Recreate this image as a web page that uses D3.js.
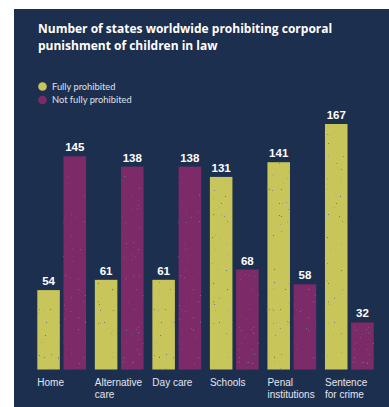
<!DOCTYPE html>
<html lang="en">
<head>
<meta charset="UTF-8">
<title>Corporal punishment</title>
<script src="https://d3js.org/d3.v7.min.js"></script>
<style>
body { margin: 0; background: #fff; }
svg { display: block; }
.title { font-family: "Open Sans", sans-serif; font-weight: 700; font-size: 12px; fill: #fff; }
.legend text { font-family: Lato, sans-serif; font-size: 9.3px; fill: #dfe2ea; }
.val { font-family: "Liberation Sans", Arial, sans-serif; font-weight: 700; font-size: 11.5px; fill: #fff; text-anchor: middle; }
.cat { font-family: "Liberation Sans", Arial, sans-serif; font-size: 10px; fill: #e4e6ee; }
</style>
</head>
<body>
<svg width="389" height="407">
  <defs>
    <filter id="grain" x="0" y="0" width="1" height="1">
      <feTurbulence type="fractalNoise" baseFrequency="0.85" numOctaves="1" seed="4" result="n"/>
      <feColorMatrix in="n" type="matrix" values="0 0 0 0 0.11  0 0 0 0 0.18  0 0 0 0 0.31  22 0 0 0 -15.9" result="dots"/>
      <feComposite in="dots" in2="SourceGraphic" operator="in" result="d2"/>
      <feMerge><feMergeNode in="SourceGraphic"/><feMergeNode in="d2"/></feMerge>
    </filter>
  </defs>
</svg>
<script>
const categories = [["Home"], ["Alternative", "care"], ["Day care"], ["Schools"], ["Penal", "institutions"], ["Sentence", "for crime"]];
const series = ["Fully prohibited", "Not fully prohibited"];
const fully = [54, 61, 61, 131, 141, 167];
const notFully = [145, 138, 138, 68, 58, 32];
const colors = ["#c8c65a", "#7d2a67"];

const svg = d3.select("svg");

// dark panel
svg.append("rect")
    .attr("x", 14).attr("y", 9)
    .attr("width", 375).attr("height", 398)
    .attr("fill", "#1d2f4f");

const title = svg.append("text").attr("class", "title");
title.append("tspan").attr("x", 38).attr("y", 33).text("Number of states worldwide prohibiting corporal");
title.append("tspan").attr("x", 38).attr("y", 50).text("punishment of children in law");

// legend
const legend = svg.append("g").attr("class", "legend");
series.forEach((s, i) => {
    legend.append("circle").attr("cx", 42.5).attr("cy", 86.5 + i * 13.5).attr("r", 4.3).attr("fill", colors[i]);
    legend.append("text").attr("x", 52).attr("y", 89.8 + i * 13.5).text(s);
});

const baseY = 369.5;
const x0 = d3.scaleBand()
    .domain(d3.range(categories.length))
    .range([37.3, 373.7])
    .paddingInner(0.153)
    .paddingOuter(0);
const x1 = d3.scaleBand()
    .domain([0, 1])
    .range([0, x0.bandwidth()])
    .paddingInner(0.14);
const y = d3.scaleLinear()
    .domain([0, 167])
    .range([baseY, 124]);

const rows = categories.map((c, i) => ({ i, vals: [fully[i], notFully[i]] }));

const groups = svg.selectAll(".grp")
    .data(rows)
    .enter().append("g")
    .attr("class", "grp")
    .attr("transform", d => `translate(${x0(d.i)},0)`);

groups.selectAll("rect")
    .data(d => d.vals.map((v, k) => ({ v, k })))
    .enter().append("rect")
    .attr("x", d => x1(d.k))
    .attr("y", d => y(d.v))
    .attr("width", x1.bandwidth())
    .attr("height", d => baseY - y(d.v))
    .attr("fill", d => colors[d.k])
    .attr("filter", "url(#grain)");

groups.selectAll(".val")
    .data(d => d.vals.map((v, k) => ({ v, k })))
    .enter().append("text")
    .attr("class", "val")
    .attr("x", d => x1(d.k) + x1.bandwidth() / 2)
    .attr("y", d => y(d.v) - 5)
    .text(d => d.v);

// category labels
groups.append("text")
    .attr("class", "cat")
    .attr("x", 0)
    .attr("y", 386)
    .selectAll("tspan")
    .data(d => categories[d.i])
    .enter().append("tspan")
    .attr("x", 0)
    .attr("dy", (d, j) => j === 0 ? 0 : 11.5)
    .text(d => d);
</script>
</body>
</html>
